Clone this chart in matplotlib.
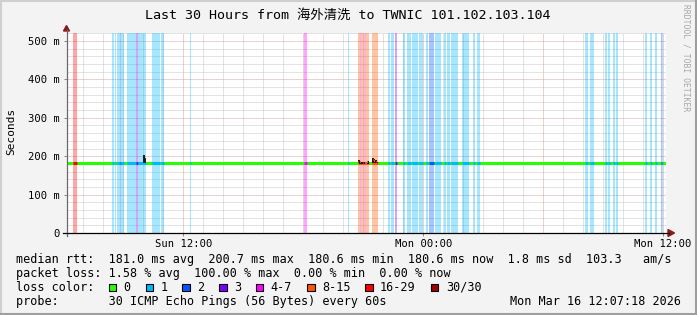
import matplotlib
matplotlib.use("Agg")
import matplotlib.pyplot as plt
from matplotlib.patches import Rectangle, Polygon
from matplotlib.lines import Line2D

W, H, DPI = 697, 315, 100

# ---------------- data ----------------
title = "Last 30 Hours from 海外清洗 to TWNIC 101.102.103.104"
x_start, x_end = 6.15, 36.15          # hours since Sun 00:00
xtick_pos = [12, 24, 36]
xtick_labels = ["Sun 12:00", "Mon 00:00", "Mon 12:00"]
ytick_pos = [0, 100, 200, 300, 400, 500]
ytick_labels = ["0", "100 m", "200 m", "300 m", "400 m", "500 m"]
y_top = 520.8

median_rtt = 181.0

# loss periods (hours) and loss class index
loss_start = [6.50, 8.45, 8.60, 8.70, 8.85, 8.90, 9.20, 9.65, 9.75, 10.45, 10.90, 12.35,
              18.05, 20.25, 20.75, 20.85, 20.90, 21.10, 21.15, 21.45,
              22.25, 22.40, 22.60, 23.00, 23.20, 23.45, 23.80, 24.15, 24.30, 24.60,
              25.05, 25.20, 25.40, 25.95, 26.50, 26.70,
              32.10, 32.35, 33.10, 33.25, 33.50, 33.65, 35.10, 35.35, 35.60, 35.90, 35.95]
loss_end = [6.70, 8.55, 8.65, 8.85, 8.90, 9.05, 9.65, 9.75, 10.15, 10.85, 11.05, 12.40,
            18.20, 20.30, 20.85, 20.90, 21.10, 21.15, 21.30, 21.75,
            22.35, 22.55, 22.70, 23.10, 23.40, 23.75, 24.00, 24.25, 24.55, 24.90,
            25.15, 25.35, 25.75, 26.30, 26.60, 26.85,
            32.25, 32.55, 33.20, 33.35, 33.60, 33.75, 35.20, 35.45, 35.70, 35.95, 36.00]
loss_level = [6, 1, 1, 1, 2, 1, 1, 3, 1, 1, 1, 1,
              4, 1, 5, 4, 5, 4, 5, 5,
              1, 1, 3, 1, 1, 1, 1, 1, 2, 1,
              1, 1, 1, 1, 1, 1,
              1, 1, 1, 1, 1, 1, 1, 1, 1, 2, 1]

loss_names = ["0", "1", "2", "3", "4-7", "8-15", "16-29", "30/30"]
loss_colors = ["#26ff00", "#00b8ff", "#0059ff", "#7e00ff",
               "#ff00ff", "#ff5500", "#ff0000", "#a10000"]

# smoke (ping spread) spikes
smoke_t = [10.05, 10.10, 20.78, 20.83, 20.95, 21.05, 21.22, 21.50, 21.55, 21.62, 21.70]
smoke_lo = [181, 181, 181, 180, 180, 180, 180, 181, 181, 181, 181]
smoke_hi = [203, 195, 190, 187, 185, 186, 188, 194, 192, 189, 186]

# raised median around spikes (hours, ms, loss class)
med_t = [20.78, 20.88, 21.00, 21.20, 21.50, 21.58, 21.68]
med_v = [186, 184, 183, 185, 189, 187, 184]
med_c = [6, 5, 6, 5, 6, 5, 6]

stats_rtt = "median rtt:  181.0 ms avg  200.7 ms max  180.6 ms min  180.6 ms now  1.8 ms sd  103.3   am/s"
stats_loss = "packet loss: 1.58 % avg  100.00 % max  0.00 % min  0.00 % now"
probe_line = "probe:       30 ICMP Echo Pings (56 Bytes) every 60s"
date_line = "Mon Mar 16 12:07:18 2026"
legend_x = [108.7, 145.7, 182.0, 219.0, 255.7, 307.0, 365.0, 430.7]

minor_x = list(range(7, 37))
major_x = [12, 18, 24, 30, 36]
minor_y = [v for v in range(20, 521, 20) if v % 100]
major_y = [100, 200, 300, 400, 500]

# ---------------- drawing ----------------
MONO = ["DejaVu Sans Mono", "Noto Sans CJK SC"]
fig = plt.figure(figsize=(W / DPI, H / DPI), dpi=DPI)
fig.patch.set_facecolor("#f3f3f3")

L, R, T, B = 66.5, 666.0, 33.0, 233.0
ax = fig.add_axes([L / W, 1 - B / H, (R - L) / W, (B - T) / H])
ax.set_xlim(x_start, x_end)
ax.set_ylim(0, y_top)
ax.set_facecolor("white")
for s in ax.spines.values():
    s.set_visible(False)

# grid
for v in minor_x:
    if v not in major_x:
        ax.axvline(v, color="#c8c8c8", lw=0.72, ls=(0, (1, 1)), zorder=0.5)
for v in major_x:
    ax.axvline(v, color="#e3a0a0", lw=0.72, ls=(0, (1, 1)), zorder=0.6)
for v in minor_y:
    ax.axhline(v, color="#c8c8c8", lw=0.72, ls=(0, (1, 1)), zorder=0.5)
for v in major_y:
    ax.axhline(v, color="#e3a0a0", lw=0.72, ls=(0, (1, 1)), zorder=0.6)

# loss background
for s, e, lv in zip(loss_start, loss_end, loss_level):
    ax.axvspan(s, e, color=loss_colors[lv], alpha=0.35, lw=0, zorder=1)

# median line
ax.plot([x_start, x_end], [median_rtt, median_rtt], color=loss_colors[0],
        lw=2.2, solid_capstyle="butt", zorder=3)
for s, e, lv in zip(loss_start, loss_end, loss_level):
    ax.plot([s, e], [median_rtt, median_rtt], color=loss_colors[lv],
            lw=2.2, solid_capstyle="butt", zorder=3.1)

# smoke
ax.vlines(smoke_t, smoke_lo, smoke_hi, color="#1a1a1a", lw=1.4, zorder=4)
for t, v, c in zip(med_t, med_v, med_c):
    ax.plot([t - 0.03, t + 0.03], [v, v], color=loss_colors[c], lw=1.5,
            solid_capstyle="butt", zorder=4.5)

# ticks
ax.set_xticks(xtick_pos)
ax.set_xticklabels(xtick_labels, family=MONO, fontsize=7.6)
ax.set_yticks(ytick_pos)
ax.set_yticklabels(ytick_labels, family=MONO, fontsize=7.6)
ax.tick_params(axis="both", length=2, width=0.7, color="#888888", pad=3)
ax.tick_params(axis="x", pad=2)


def fx(px):
    return px / W


def fy(py):
    return 1 - py / H


# axes lines and arrows
fig.add_artist(Line2D([fx(66.5), fx(66.5)], [fy(236), fy(30)], color="#6a6a6a", lw=0.9))
fig.add_artist(Line2D([fx(63), fx(669)], [fy(233), fy(233)], color="black", lw=0.9))
fig.add_artist(Polygon([[fx(63.5), fy(31)], [fx(69.5), fy(31)], [fx(66.5), fy(25.5)]],
                       closed=True, color="#8b1a1a", transform=fig.transFigure))
fig.add_artist(Polygon([[fx(668), fy(229.5)], [fx(668), fy(236.5)], [fx(674.5), fy(233)]],
                       closed=True, color="#8b1a1a", transform=fig.transFigure))

# frame border
fig.add_artist(Line2D([0, 1], [fy(0.8), fy(0.8)], color="#cfcfcf", lw=1.5))
fig.add_artist(Line2D([fx(0.8), fx(0.8)], [0, 1], color="#cfcfcf", lw=1.5))
fig.add_artist(Line2D([0, 1], [fy(313.5), fy(313.5)], color="#9e9e9e", lw=2.2))
fig.add_artist(Line2D([fx(695.5), fx(695.5)], [0, 1], color="#9e9e9e", lw=2.2))

# texts
fig.text(fx(347.5), fy(15), title, family=MONO, fontsize=9.6, ha="center", va="center")
fig.text(fx(11), fy(131), "Seconds", family=MONO, fontsize=8, rotation=90,
         ha="center", va="center")
fig.text(fx(686), fy(58), "RRDTOOL / TOBI OETIKER", family=MONO, fontsize=5.8,
         rotation=-90, ha="center", va="center", color="#a8a8a8")

fig.text(fx(16), fy(259.3), stats_rtt, family=MONO, fontsize=8.5, ha="left", va="center")
fig.text(fx(16), fy(273.3), stats_loss, family=MONO, fontsize=8.5, ha="left", va="center")
fig.text(fx(16), fy(287.3), "loss color:", family=MONO, fontsize=8.5, ha="left", va="center")
for xp, name, col in zip(legend_x, loss_names, loss_colors):
    fig.add_artist(Rectangle((fx(xp), fy(291.3)), 7.5 / W, 7.5 / H, transform=fig.transFigure,
                             facecolor=col, edgecolor="black", lw=0.8))
    fig.text(fx(xp + 15), fy(287.3), name, family=MONO, fontsize=8.5, ha="left", va="center")
fig.text(fx(16), fy(301.7), probe_line, family=MONO, fontsize=8.5, ha="left", va="center")
fig.text(fx(681), fy(301.7), date_line, family=MONO, fontsize=8.5, ha="right", va="center")

fig.savefig("out.png", dpi=DPI, facecolor=fig.get_facecolor())
